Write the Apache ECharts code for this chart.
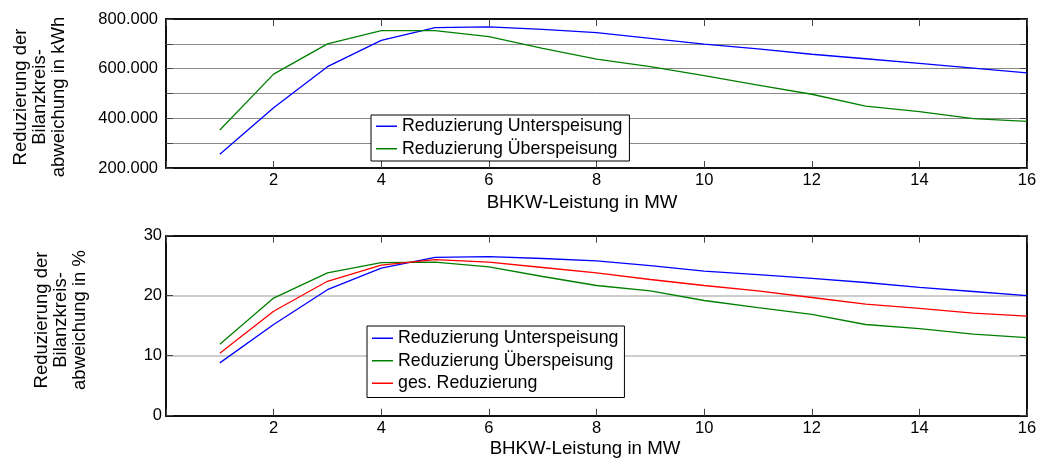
<!DOCTYPE html>
<html>
<head>
<meta charset="utf-8">
<script src="https://cdn.jsdelivr.net/npm/echarts@6/dist/echarts.min.js"></script>
<style>
  html, body { margin: 0; padding: 0; background: #fff; }
  #chart { width: 1043px; height: 459px; }
</style>
</head>
<body>
<div id="chart"></div>
<script>
// BHKW-Leistung in MW
const leistungMW = [1, 2, 3, 4, 5, 6, 7, 8, 9, 10, 11, 12, 13, 14, 15, 16];

// Reduzierung der Bilanzkreisabweichung in kWh
const unterKWh = [255000, 443000, 608000, 714000, 765000, 768000, 758000, 745000,
                  722000, 699000, 680000, 658000, 640000, 621000, 602000, 583000];
const ueberKWh = [353000, 578000, 700000, 753000, 753000, 729000, 682000, 638000,
                  608000, 572000, 534000, 497000, 449000, 427000, 399000, 388000];

// Reduzierung der Bilanzkreisabweichung in %
const unterPct = [8.8, 15.2, 21.0, 24.6, 26.4, 26.5, 26.2, 25.8,
                  25.0, 24.1, 23.5, 22.9, 22.2, 21.4, 20.7, 20.0];
const ueberPct = [11.9, 19.6, 23.8, 25.5, 25.6, 24.8, 23.2, 21.7,
                  20.8, 19.2, 18.0, 16.9, 15.2, 14.5, 13.6, 13.0];
const gesPct   = [10.4, 17.4, 22.4, 25.1, 26.0, 25.6, 24.7, 23.8,
                  22.7, 21.7, 20.8, 19.7, 18.6, 17.9, 17.1, 16.6];

const NAME_UNTER = 'Reduzierung Unterspeisung';
const NAME_UEBER = 'Reduzierung Überspeisung';
const NAME_GES = 'ges. Reduzierung';

const FONT = '"Liberation Sans", Arial, Helvetica, sans-serif';
const BLUE = '#0000ff', GREEN = '#008000', RED = '#ff0000';

const pairs = ys => leistungMW.map((x, i) => [x, ys[i]]);
const fmtThousands = v => String(v).replace(/\B(?=(\d{3})+(?!\d))/g, '.');

const AXIS_LINE = { show: true, onZero: false, lineStyle: { color: '#111', width: 2 } };
const AXIS_TICK = { show: true, inside: true, length: 7, lineStyle: { color: '#444', width: 1 } };

function xAxisPair(gridIndex) {
  const base = {
    type: 'value', gridIndex, min: 0, max: 16, interval: 2,
    axisLine: AXIS_LINE, axisTick: AXIS_TICK, splitLine: { show: false }
  };
  return [
    Object.assign({}, base, {
      position: 'bottom',
      axisLabel: {
        show: true, margin: 4, color: '#000', fontFamily: FONT, fontSize: 16.5,
        formatter: v => (v === 0 ? '' : String(v))
      }
    }),
    Object.assign({}, base, { position: 'top', axisLabel: { show: false } })
  ];
}

function yAxisPair(gridIndex, min, max, interval, labelFmt, gridColor, gridWidth, labelMargin) {
  const base = {
    type: 'value', gridIndex, min, max, interval,
    axisLine: AXIS_LINE, axisTick: AXIS_TICK
  };
  return [
    Object.assign({}, base, {
      position: 'left',
      axisLabel: { show: true, margin: labelMargin, color: '#000', fontFamily: FONT, fontSize: 16.5, formatter: labelFmt },
      splitLine: { show: true, lineStyle: { color: gridColor, width: gridWidth } }
    }),
    Object.assign({}, base, { position: 'right', axisLabel: { show: false }, splitLine: { show: false } })
  ];
}

function line(name, color, xIdx, yIdx, ys) {
  return {
    type: 'line', name, xAxisIndex: xIdx, yAxisIndex: yIdx,
    data: pairs(ys), symbol: 'none', smooth: false,
    lineStyle: { color, width: 1.3 }, itemStyle: { color },
    emphasis: { disabled: true }
  };
}

function legendBox(left, top, names, padding) {
  return {
    orient: 'vertical', left, top, data: names,
    icon: 'rect', itemWidth: 21, itemHeight: 1.5, itemGap: 4,
    backgroundColor: '#fff', borderColor: '#000', borderWidth: 1, borderRadius: 0,
    padding, selectedMode: false,
    textStyle: { color: '#000', fontFamily: FONT, fontSize: 17.8, lineHeight: 18.5 }
  };
}

function yTitle(x, y, text) {
  return {
    type: 'text', x, y, rotation: Math.PI / 2,
    style: {
      text, fill: '#000', font: '18.5px ' + FONT,
      align: 'center', verticalAlign: 'middle', lineHeight: 19.3
    }
  };
}

function xTitle(x, y) {
  return {
    type: 'text', x, y,
    style: { text: 'BHKW-Leistung in MW', fill: '#000', font: '18.7px ' + FONT, align: 'center', verticalAlign: 'middle' }
  };
}

const chart = echarts.init(document.getElementById('chart'), null, { renderer: 'canvas' });

chart.setOption({
  animation: false,
  backgroundColor: '#fff',
  grid: [
    { left: 166, top: 19, width: 861, height: 149 },
    { left: 166, top: 235.7, width: 861, height: 180 }
  ],
  xAxis: [...xAxisPair(0), ...xAxisPair(1)],
  yAxis: [
    ...yAxisPair(0, 200000, 800000, 100000,
      v => (v % 200000 === 0 ? fmtThousands(v) : ''), '#8a8a8a', 1, 8),
    ...yAxisPair(1, 0, 30, 10, v => String(v), '#bcbcbc', 1.5, 4)
  ],
  legend: [
    legendBox(371, 115, [NAME_UNTER, NAME_UEBER], [2, 7, 3, 5]),
    legendBox(367, 326, [NAME_UNTER, NAME_UEBER, NAME_GES], [3, 6, 5, 5])
  ],
  series: [
    line(NAME_UNTER, BLUE, 0, 0, unterKWh),
    line(NAME_UEBER, GREEN, 0, 0, ueberKWh),
    line(NAME_UNTER, BLUE, 2, 2, unterPct),
    line(NAME_UEBER, GREEN, 2, 2, ueberPct),
    line(NAME_GES, RED, 2, 2, gesPct)
  ],
  graphic: [
    yTitle(40, 97, 'Reduzierung der\nBilanzkreis-\nabweichung in kWh'),
    yTitle(61, 320, 'Reduzierung der\nBilanzkreis-\nabweichung in %'),
    xTitle(582, 203),
    xTitle(585, 449)
  ]
});
</script>
</body>
</html>
